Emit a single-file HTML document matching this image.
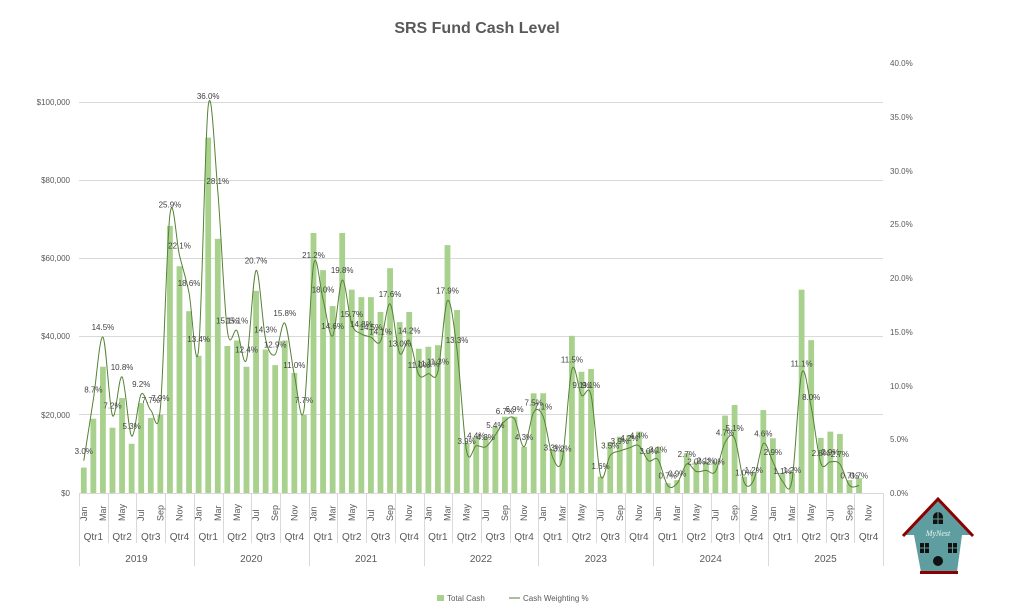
<!DOCTYPE html>
<html><head><meta charset="utf-8"><style>
body{margin:0;background:#fff;}
svg{display:block;font-family:"Liberation Sans",sans-serif;}
.ax{font-size:8px;fill:#595959;}
.dl{font-size:8px;fill:#404040;text-anchor:middle;}
.mo{font-size:9px;fill:#595959;}
.qt{font-size:10px;fill:#595959;text-anchor:middle;}
</style></head><body>
<svg id="c" width="1023" height="611" viewBox="0 0 1023 611">
<text x="477" y="33" text-anchor="middle" font-size="16" font-weight="bold" fill="#595959">SRS Fund Cash Level</text>
<g stroke="#d9d9d9" stroke-width="1">
<line x1="79" x2="883" y1="102.5" y2="102.5"/><line x1="79" x2="883" y1="180.5" y2="180.5"/><line x1="79" x2="883" y1="258.5" y2="258.5"/><line x1="79" x2="883" y1="336.5" y2="336.5"/><line x1="79" x2="883" y1="414.5" y2="414.5"/><line x1="79" x2="883" y1="493.5" y2="493.5"/>
</g>
<g class="ax" text-anchor="end">
<text x="70" y="105">$100,000</text><text x="70" y="183">$80,000</text><text x="70" y="261">$60,000</text><text x="70" y="339">$40,000</text><text x="70" y="418">$20,000</text><text x="70" y="496">$0</text>
</g>
<g class="ax">
<text x="890" y="66">40.0%</text><text x="890" y="120">35.0%</text><text x="890" y="174">30.0%</text><text x="890" y="227">25.0%</text><text x="890" y="281">20.0%</text><text x="890" y="335">15.0%</text><text x="890" y="389">10.0%</text><text x="890" y="442">5.0%</text><text x="890" y="496">0.0%</text>
</g>
<g id="bars" fill="#a9d18e"></g>
<path id="ln" fill="none" stroke="#548235" stroke-width="1"/>
<g id="dls">
<text class="dl">3.0%</text><text class="dl">8.7%</text><text class="dl">14.5%</text><text class="dl">7.2%</text><text class="dl">10.8%</text><text class="dl">5.3%</text><text class="dl">9.2%</text><text class="dl">7.7%</text><text class="dl">7.9%</text><text class="dl">25.9%</text><text class="dl">22.1%</text><text class="dl">18.6%</text>
<text class="dl">13.4%</text><text class="dl">36.0%</text><text class="dl">28.1%</text><text class="dl">15.1%</text><text class="dl">15.1%</text><text class="dl">12.4%</text><text class="dl">20.7%</text><text class="dl">14.3%</text><text class="dl">12.9%</text><text class="dl">15.8%</text><text class="dl">11.0%</text><text class="dl">7.7%</text>
<text class="dl">21.2%</text><text class="dl">18.0%</text><text class="dl">14.6%</text><text class="dl">19.8%</text><text class="dl">15.7%</text><text class="dl">14.8%</text><text class="dl">14.5%</text><text class="dl">14.1%</text><text class="dl">17.6%</text><text class="dl">13.0%</text><text class="dl">14.2%</text><text class="dl">11.0%</text>
<text class="dl">11.1%</text><text class="dl">11.3%</text><text class="dl">17.9%</text><text class="dl">13.3%</text><text class="dl">3.9%</text><text class="dl">4.4%</text><text class="dl">4.3%</text><text class="dl">5.4%</text><text class="dl">6.7%</text><text class="dl">6.9%</text><text class="dl">4.3%</text><text class="dl">7.5%</text>
<text class="dl">7.1%</text><text class="dl">3.3%</text><text class="dl">3.2%</text><text class="dl">11.5%</text><text class="dl">9.1%</text><text class="dl">9.1%</text><text class="dl">1.6%</text><text class="dl">3.5%</text><text class="dl">3.9%</text><text class="dl">4.2%</text><text class="dl">4.4%</text><text class="dl">3.0%</text>
<text class="dl">3.1%</text><text class="dl">0.7%</text><text class="dl">0.9%</text><text class="dl">2.7%</text><text class="dl">2.0%</text><text class="dl">2.1%</text><text class="dl">2.0%</text><text class="dl">4.7%</text><text class="dl">5.1%</text><text class="dl">1.0%</text><text class="dl">1.2%</text><text class="dl">4.6%</text>
<text class="dl">2.9%</text><text class="dl">1.1%</text><text class="dl">1.2%</text><text class="dl">11.1%</text><text class="dl">8.0%</text><text class="dl">2.8%</text><text class="dl">2.9%</text><text class="dl">2.7%</text><text class="dl">0.7%</text><text class="dl">0.7%</text>
</g>
<g id="axl" stroke="#d9d9d9" stroke-width="1"></g>
<g id="mos">
<text class="mo">Jan</text><text class="mo">Mar</text><text class="mo">May</text><text class="mo">Jul</text><text class="mo">Sep</text><text class="mo">Nov</text>
<text class="mo">Jan</text><text class="mo">Mar</text><text class="mo">May</text><text class="mo">Jul</text><text class="mo">Sep</text><text class="mo">Nov</text>
<text class="mo">Jan</text><text class="mo">Mar</text><text class="mo">May</text><text class="mo">Jul</text><text class="mo">Sep</text><text class="mo">Nov</text>
<text class="mo">Jan</text><text class="mo">Mar</text><text class="mo">May</text><text class="mo">Jul</text><text class="mo">Sep</text><text class="mo">Nov</text>
<text class="mo">Jan</text><text class="mo">Mar</text><text class="mo">May</text><text class="mo">Jul</text><text class="mo">Sep</text><text class="mo">Nov</text>
<text class="mo">Jan</text><text class="mo">Mar</text><text class="mo">May</text><text class="mo">Jul</text><text class="mo">Sep</text><text class="mo">Nov</text>
<text class="mo">Jan</text><text class="mo">Mar</text><text class="mo">May</text><text class="mo">Jul</text><text class="mo">Sep</text><text class="mo">Nov</text>
</g>
<g id="qts">
<text class="qt">Qtr1</text><text class="qt">Qtr2</text><text class="qt">Qtr3</text><text class="qt">Qtr4</text>
<text class="qt">Qtr1</text><text class="qt">Qtr2</text><text class="qt">Qtr3</text><text class="qt">Qtr4</text>
<text class="qt">Qtr1</text><text class="qt">Qtr2</text><text class="qt">Qtr3</text><text class="qt">Qtr4</text>
<text class="qt">Qtr1</text><text class="qt">Qtr2</text><text class="qt">Qtr3</text><text class="qt">Qtr4</text>
<text class="qt">Qtr1</text><text class="qt">Qtr2</text><text class="qt">Qtr3</text><text class="qt">Qtr4</text>
<text class="qt">Qtr1</text><text class="qt">Qtr2</text><text class="qt">Qtr3</text><text class="qt">Qtr4</text>
<text class="qt">Qtr1</text><text class="qt">Qtr2</text><text class="qt">Qtr3</text><text class="qt">Qtr4</text>
</g>
<g id="yrs">
<text class="qt">2019</text><text class="qt">2020</text><text class="qt">2021</text><text class="qt">2022</text><text class="qt">2023</text><text class="qt">2024</text><text class="qt">2025</text>
</g>
<rect x="437" y="595" width="7" height="6" fill="#a9d18e"/>
<text x="447" y="601" font-size="8" fill="#595959">Total Cash</text>
<line x1="509" x2="520" y1="598" y2="598" stroke="#548235" stroke-width="1"/>
<text x="523" y="601" font-size="8" fill="#595959">Cash Weighting %</text>
<g>
<polygon points="938,500 972,535 962,535 957,572 921,572 914,535 904,535" fill="#5f9ea0"/>
<polyline points="903,536 938,499 973,536" fill="none" stroke="#8b0000" stroke-width="3"/>
<rect x="920" y="571" width="38" height="3" fill="#8b0000"/>
<path d="M933,524 v-7 a5,5 0 0 1 10,0 v7 z" fill="#111"/>
<rect x="920" y="543" width="9" height="10" fill="#111"/>
<rect x="948" y="543" width="9" height="10" fill="#111"/>
<circle cx="938" cy="561" r="5" fill="#111"/>
<g stroke="#5f9ea0" stroke-width="1"><line x1="938" x2="938" y1="512" y2="524"/><line x1="933" x2="943" y1="519" y2="519"/><line x1="924.5" x2="924.5" y1="543" y2="553"/><line x1="920" x2="929" y1="548" y2="548"/><line x1="952.5" x2="952.5" y1="543" y2="553"/><line x1="948" x2="957" y1="548" y2="548"/></g>
<text x="938" y="536" text-anchor="middle" font-size="8" font-style="italic" fill="#e8f4f4" font-family="Liberation Serif,serif">MyNest</text>
</g>
</svg>
<script>
var cash=[6.5,19,32.3,16.7,24.3,12.6,23,19.2,20,68.3,58,46.5,
35.1,90.9,65,37.6,39,32.3,51.7,36.7,32.7,39,30.7,20,
66.5,57,47.8,66.5,52,50.1,50.1,46.3,57.5,43.7,46.3,36.9,
37.4,37.8,63.4,46.8,12.9,14.4,14.4,17,19.5,19.5,11.8,25.5,
25.5,11,11,40.2,31,31.7,4.2,13,14.4,14.8,15.7,11,
11.8,2.5,3.3,10.2,8,8,8,19.8,22.5,4.2,5.1,21.2,
14,5.1,5.1,52,39.1,14.1,15.7,15.1,3.3,3.8];
var pct=[3.0,8.7,14.5,7.2,10.8,5.3,9.2,7.7,7.9,25.9,22.1,18.6,
13.4,36.0,28.1,15.1,15.1,12.4,20.7,14.3,12.9,15.8,11.0,7.7,
21.2,18.0,14.6,19.8,15.7,14.8,14.5,14.1,17.6,13.0,14.2,11.0,
11.1,11.3,17.9,13.3,3.9,4.4,4.3,5.4,6.7,6.9,4.3,7.5,
7.1,3.3,3.2,11.5,9.1,9.1,1.6,3.5,3.9,4.2,4.4,3.0,
3.1,0.7,0.9,2.7,2.0,2.1,2.0,4.7,5.1,1.0,1.2,4.6,
2.9,1.1,1.2,11.1,8.0,2.8,2.9,2.7,0.7,0.7];
var NS="http://www.w3.org/2000/svg",x0=79,w=9.571,base=493;
function cx(i){return x0+w*(i+0.5);}
var bars=document.getElementById("bars");
cash.forEach(function(v,i){var r=document.createElementNS(NS,"rect");var h=v*3.91;
r.setAttribute("x",cx(i)-2.9);r.setAttribute("width",5.8);r.setAttribute("y",base-h);r.setAttribute("height",h);bars.appendChild(r);});
var P=pct.map(function(v,i){return [cx(i),base-v*10.75];});
var d="M"+P[0][0]+","+P[0][1];
for(var i=0;i<P.length-1;i++){var p0=P[i-1]||P[i],p1=P[i],p2=P[i+1],p3=P[i+2]||P[i+1];
d+=" C"+(p1[0]+(p2[0]-p0[0])/6)+","+(p1[1]+(p2[1]-p0[1])/6)+" "+(p2[0]-(p3[0]-p1[0])/6)+","+(p2[1]-(p3[1]-p1[1])/6)+" "+p2[0]+","+p2[1];}
document.getElementById("ln").setAttribute("d",d);
var dls=document.querySelectorAll("#dls text");
dls.forEach(function(t,i){t.setAttribute("x",P[i][0]);t.setAttribute("y",P[i][1]-7);});
var mos=document.querySelectorAll("#mos text");
mos.forEach(function(t,k){var i=k*2;var x=cx(i)+3,y=521;t.setAttribute("transform","translate("+x+","+y+") rotate(-90)");});
var qts=document.querySelectorAll("#qts text");
qts.forEach(function(t,k){t.setAttribute("x",x0+w*(k*3+1.5));t.setAttribute("y",540);});
var yrs=document.querySelectorAll("#yrs text");
yrs.forEach(function(t,k){t.setAttribute("x",x0+w*(k*12+6));t.setAttribute("y",562);});
var axl=document.getElementById("axl");
for(var q=0;q<=28;q++){var l=document.createElementNS(NS,"line");var x=Math.round(x0+w*q*3)+0.5;
l.setAttribute("x1",x);l.setAttribute("x2",x);l.setAttribute("y1",493);l.setAttribute("y2",q%4==0?566:543);axl.appendChild(l);}
</script>
</body></html>
